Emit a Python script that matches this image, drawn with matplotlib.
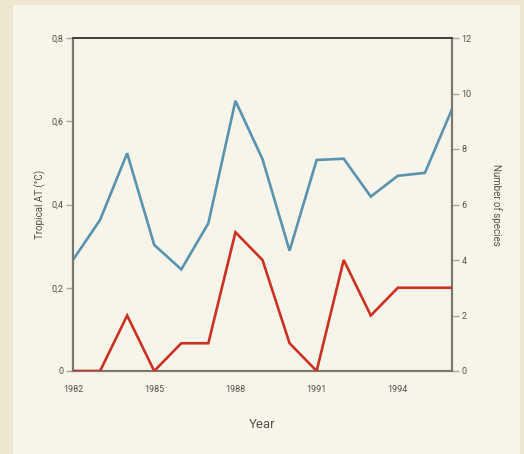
import matplotlib
matplotlib.use("Agg")
import matplotlib.pyplot as plt
from matplotlib.patches import Rectangle
from matplotlib.ticker import FuncFormatter, FixedLocator
from matplotlib import font_manager

years = list(range(1982, 1997))
tropical_at = [0.267, 0.363, 0.523, 0.303, 0.244, 0.355, 0.649, 0.509, 0.289,
               0.507, 0.510, 0.419, 0.469, 0.476, 0.629]
species = [0, 0, 2, 0, 1, 1, 5, 4, 1, 0, 4, 2, 3, 3, 3]
x_ticks = [1982, 1985, 1988, 1991, 1994]
left_ticks = [0, 0.2, 0.4, 0.6, 0.8]
right_ticks = [0, 2, 4, 6, 8, 10, 12]

names = {f.name for f in font_manager.fontManager.ttflist}
fam = "Liberation Sans Narrow" if "Liberation Sans Narrow" in names else "Roboto"
plt.rcParams['font.family'] = [fam, 'DejaVu Sans']

W, H = 524, 454
fig = plt.figure(figsize=(W / 100, H / 100), dpi=100)
fig.patch.set_facecolor("#ede7cf")
fig.patches.append(Rectangle((13 / W, 0), (520 - 13) / W, (454 - 5) / H,
                             transform=fig.transFigure, facecolor="#f7f4e9",
                             edgecolor="none", zorder=-10))

ax = fig.add_axes([73 / W, 1 - 371 / H, (452 - 73) / W, (371 - 38) / H])
ax.set_facecolor("none")
ax2 = ax.twinx()

blue = "#5a93ae"
red = "#cc3223"
grey = "#7a7670"
txt = "#55524d"

ax.plot(years, tropical_at, color=blue, lw=1.9, solid_joinstyle="miter", zorder=3)
ax2.plot(years, species, color=red, lw=1.9, solid_joinstyle="miter", zorder=3)

ax.set_xlim(1982, 1996)
ax.set_ylim(0, 0.8)
ax2.set_ylim(0, 12)

ax.yaxis.set_major_locator(FixedLocator(left_ticks))
ax.yaxis.set_major_formatter(FuncFormatter(lambda v, p: "0" if v == 0 else f"{v:.1f}".replace(".", ",")))
ax2.yaxis.set_major_locator(FixedLocator(right_ticks))
ax.xaxis.set_major_locator(FixedLocator(x_ticks))

for a in (ax, ax2):
    for s in a.spines.values():
        s.set_color(grey)
        s.set_linewidth(1.5)
    a.spines["top"].set_color("#3a3835")
    a.spines["top"].set_linewidth(1.1)

ax.tick_params(axis="y", direction="out", length=5, width=1, color="#aaa69e",
               labelsize=6.5, labelcolor=txt, pad=2)
ax2.tick_params(axis="y", direction="out", length=5, width=1, color="#aaa69e",
                labelsize=6.5, labelcolor=txt, pad=2)
ax.tick_params(axis="x", length=0, labelsize=6.5, labelcolor=txt, pad=10)

ax.set_ylabel("Tropical AT (°C)", fontsize=7, color=txt, labelpad=4)
ax2.set_ylabel("Number of species", fontsize=7, color=txt, rotation=-90, labelpad=22)
ax.set_xlabel("Year", fontsize=9.5, color=txt, labelpad=17)

fig.savefig("out.png", dpi=100, facecolor=fig.get_facecolor())
